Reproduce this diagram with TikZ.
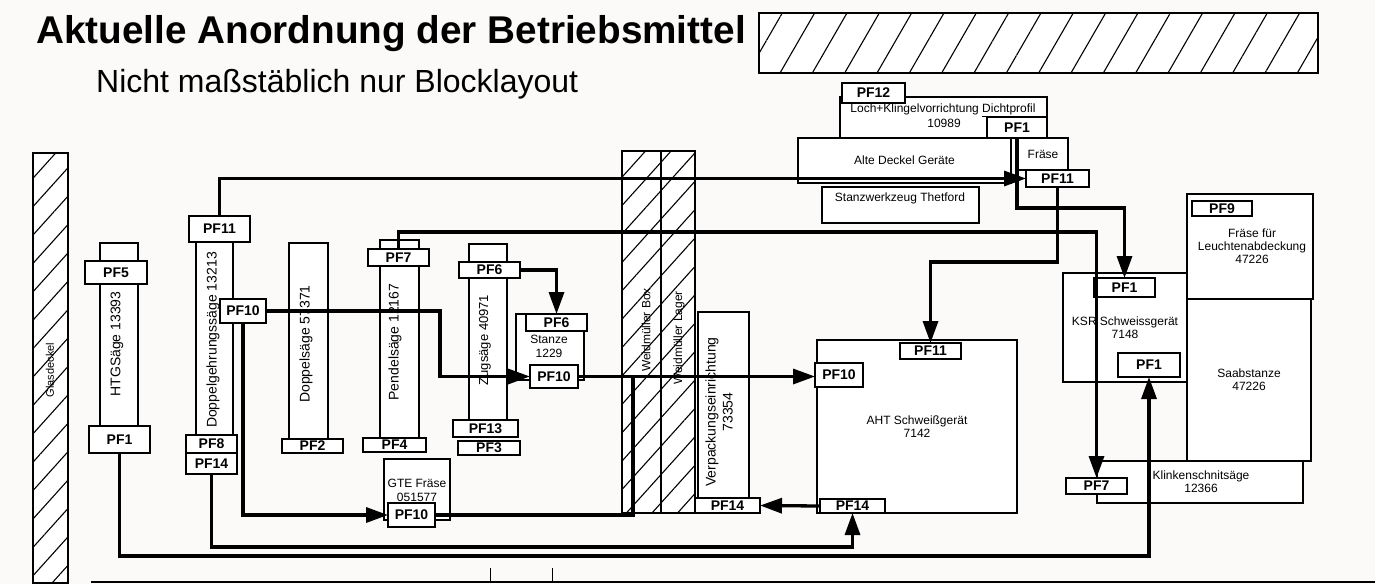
\documentclass[tikz,border=0pt]{standalone}
\usepackage{fontspec}
\setmainfont{Liberation Sans}
\usetikzlibrary{arrows.meta,patterns.meta,calc}
\definecolor{bgc}{RGB}{252,250,248}
\newcommand{\bx}[7][]{%
  \pgfmathsetmacro{\mybw}{#5-#3}%
  \pgfmathsetmacro{\mybh}{#6-#4}%
  \pgfmathsetmacro{\mycx}{(#3+#5)/2}%
  \pgfmathsetmacro{\mycy}{(#4+#6)/2}%
  \node[box,minimum width=\mybw pt,minimum height=\mybh pt,#1] (#2) at (\mycx,\mycy) {#7};}
\tikzset{
  box/.style={draw,line width=1.3pt,fill=white,inner sep=0pt,outer sep=0pt,align=center,font=\fontsize{12}{13}\selectfont},
  pf/.style={font=\bfseries\fontsize{14}{14}\selectfont},
  conn/.style={line width=3.3pt},
  arr/.style={conn,-{Triangle[length=22pt,width=15pt]}},
  lbl/.style={inner sep=0pt,align=center,font=\fontsize{12}{13}\selectfont},
  vlbl/.style={inner sep=0pt,rotate=90,align=center,font=\fontsize{14}{17}\selectfont},
  hatchA/.style={draw,line width=1.3pt,preaction={fill=white},pattern={Lines[angle=60,distance=28pt,line width=1.1pt]}},
  hatchB/.style={draw,line width=1.3pt,preaction={fill=white},pattern={Lines[angle=48,distance=19pt,line width=1.1pt]}}
}
\begin{document}
\begin{tikzpicture}[x=1pt,y=-1pt]
\fill[bgc] (0,0) rectangle (1375,584);
\useasboundingbox (0,0) rectangle (1375,584);
% title
\node[anchor=base west,inner sep=0pt,font=\bfseries\fontsize{38.7}{40}\selectfont] (title) at (36,43) {Aktuelle Anordnung der Betriebsmittel};
\node[anchor=base west,inner sep=0pt,font=\fontsize{32}{34}\selectfont] (subtitle) at (96,92) {Nicht maßstäblich nur Blocklayout};
% hatched areas
\draw[hatchA] (759,13) rectangle (1318,73);
\draw[hatchB] (33,153) rectangle (68,583);
\draw[hatchB] (622,151) rectangle (661,513);
\draw[hatchB] (661,151) rectangle (695,513);
\node[vlbl,font=\fontsize{11}{12}\selectfont] (glas) at (50,370) {Glasdeckel};
\node[vlbl,font=\fontsize{12}{13}\selectfont] (wbox) at (646,330) {Weidmüller Box};
\node[vlbl,font=\fontsize{12}{13}\selectfont] (wlag) at (679,338) {Weidmüller Lager};
% machine bodies
\bx{htCol}{100}{243}{138}{426}{}
\bx{dgCol}{196}{242}{233}{435}{}
\bx{dsCol}{289}{243}{328}{439}{}
\bx{pdCol}{380}{240}{419}{438}{}
\bx{zgCol}{469}{244}{507}{420}{}
\bx{stBox}{516}{314}{584}{380}{}
\bx{gtBox}{384}{459}{450}{520}{}
\bx{vpBox}{698}{312}{749}{500}{}
\bx{ahBox}{817}{340}{1017}{513}{}
\bx{lBox}{840}{97}{1047}{138}{}
\bx{adBox}{798}{138}{1011}{183}{Alte Deckel Geräte}
\bx{frBox}{1018}{138}{1068}{170}{Fräse}
\bx{swBox}{822}{187}{979}{223}{}
\bx{ksBox}{1063}{273}{1187}{382}{}
\bx{flBox}{1187}{194}{1313}{299}{}
\bx{sbBox}{1187}{299}{1311}{461}{Saabstanze\\47226}
\bx{klBox}{1097}{461}{1303}{503}{}
% machine labels
\node[vlbl] (htT) at (117,344) {HTGSäge 13393};
\node[vlbl] (dgT) at (213,340) {Doppelgehrungssäge 13213};
\node[vlbl] (dsT) at (306,344) {Doppelsäge 57371};
\node[vlbl] (pdT) at (395,342) {Pendelsäge 12167};
\node[vlbl,font=\fontsize{13}{15}\selectfont] (zgT) at (485,340) {Zugsäge 40971};
\node[vlbl] (vpT) at (719,412) {Verpackungseinrichtung\\73354};
\node[lbl,font=\fontsize{12}{14}\selectfont] (stT) at (549,346) {Stanze\\1229};
\node[lbl,font=\fontsize{12}{14}\selectfont] (gtT) at (417,490) {GTE Fräse\\051577};
\node[lbl] (ahT) at (917,427) {AHT Schweißgerät\\7142};
\node[lbl] (lT1) at (943,110) {Loch+Klingelvorrichtung \underline{Dichtprofil}};
\node[lbl] (lT2) at (944,123) {10989};
\node[lbl] (swT) at (900,198) {Stanzwerkzeug Thetford};
\node[lbl] (ksT) at (1125,328) {KSR Schweissgerät\\7148};
\node[lbl] (flT) at (1252,246) {Fräse für\\Leuchtenabdeckung\\47226};
\node[lbl] (klT) at (1201,482) {Klinkenschnitsäge\\12366};
% PF boxes
\bx[pf]{htPF5}{85}{261}{147}{284}{PF5}
\bx[pf]{htPF1}{89}{426}{150}{453}{PF1}
\bx[pf]{dgPF11}{189}{216}{250}{242}{PF11}
\bx[pf]{dgPF10}{220}{299}{266}{323}{PF10}
\bx[pf]{dgPF8}{186}{435}{237}{453}{PF8}
\bx[pf]{dgPF14}{186}{453}{237}{474}{PF14}
\bx[pf]{dsPF2}{282}{439}{343}{453}{PF2}
\bx[pf]{pdPF7}{368}{249}{429}{266}{PF7}
\bx[pf]{pdPF4}{363}{438}{426}{452}{PF4}
\bx[pf]{zgPF6}{459}{262}{520}{278}{PF6}
\bx[pf]{zgPF13}{453}{420}{518}{437}{PF13}
\bx[pf]{zgPF3}{458}{441}{520}{455}{PF3}
\bx[pf]{stPF6}{526}{314}{587}{331}{PF6}
\bx[pf]{stPF10}{530}{365}{578}{388}{PF10}
\bx[pf]{gtPF10}{388}{503}{435}{527}{PF10}
\bx[pf]{vpPF14}{695}{498}{760}{513}{PF14}
\bx[pf]{ahPF11}{900}{343}{961}{359}{PF11}
\bx[pf]{ahPF10}{815}{363}{863}{387}{PF10}
\bx[pf]{ahPF14}{820}{499}{885}{513}{PF14}
\bx[pf]{lPF12}{842}{83}{905}{103}{PF12}
\bx[pf]{lPF1}{987}{117}{1047}{138}{PF1}
\bx[pf]{frPF11}{1026}{170}{1089}{187}{PF11}
\bx[pf]{ksPF1a}{1094}{278}{1155}{297}{PF1}
\bx[pf]{ksPF1b}{1118}{353}{1180}{377}{PF1}
\bx[pf]{flPF9}{1192}{201}{1252}{216}{PF9}
\bx[pf]{klPF7}{1066}{478}{1127}{494}{PF7}
% connectors
\coordinate (c7) at (1096.5,232);
\coordinate (c10) at (440,311);
\coordinate (cj) at (633,376.5);
\draw[arr] (dgPF11.north) |- (frPF11.west);
\draw[arr] (pdPF7.north) |- (c7) -- (klPF7.north);
\draw[arr] (lPF1.south) -- ++(0,70) -| (ksPF1a.north);
\draw[arr] (frPF11.south) -- ++(0,75) -| (ahPF11.north);
\draw[arr] (zgPF6.east) -| (stPF6.north);
\draw[arr] (dgPF10.east) -- (c10) |- (stPF10.west);
\draw[arr] (stPF10.east) -- (stPF10.east -| ahPF10.west);
\draw[arr] (dgPF10.south) |- (gtPF10.west);
\draw[conn] (gtPF10.east) -| (cj);
\draw[arr] (dgPF14.south) -- ++(0,73) -| (ahPF14.south);
\draw[arr] (htPF1.south) -- ++(0,103) -| (ksPF1b.south);
\draw[arr] (ahPF14.west) -- (vpPF14.east);
% bottom axis
\coordinate (a0) at (91,582);
\coordinate (a1) at (1375,582);
\coordinate (t1) at (490,568);
\coordinate (t2) at (552,568);
\draw[line width=1.3pt] (a0) -- (a1);
\draw[line width=1pt] (t1) -- (t1 |- a0);
\draw[line width=1pt] (t2) -- (t2 |- a0);
\end{tikzpicture}
\end{document}
